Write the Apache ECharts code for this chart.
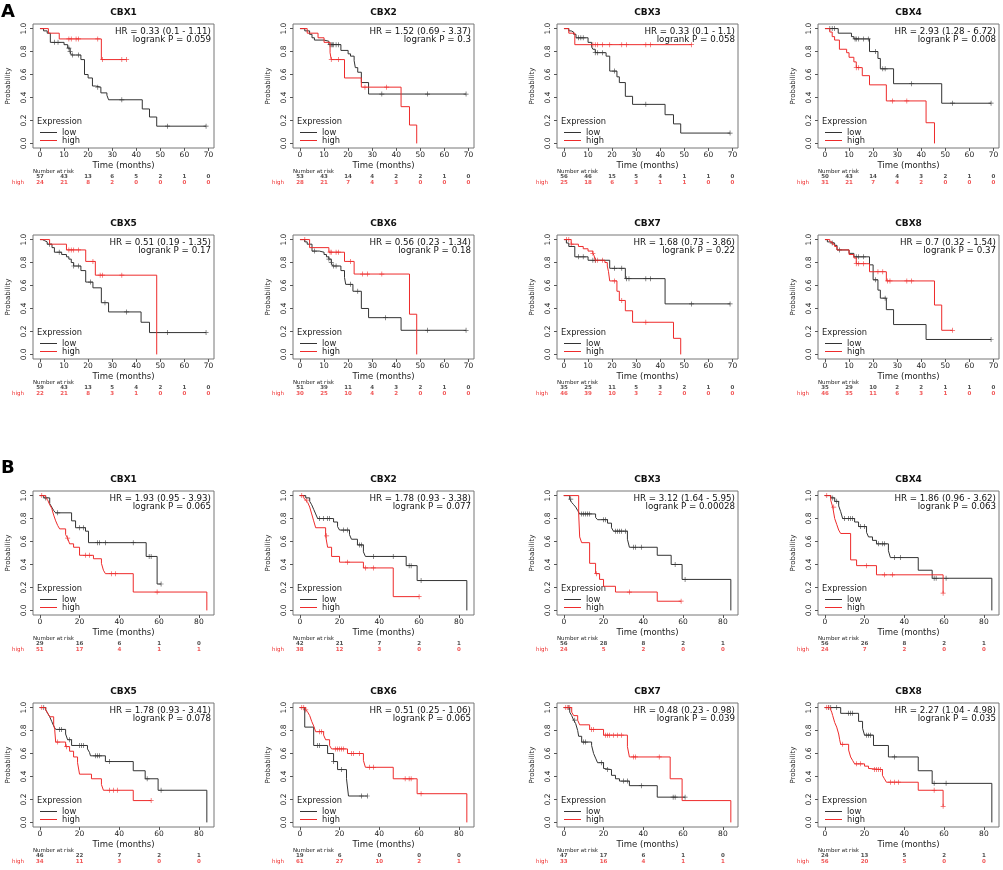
<!DOCTYPE html>
<html>
<head>
<meta charset="utf-8">
<script src="https://cdn.jsdelivr.net/npm/echarts@6/dist/echarts.min.js"></script>
<style>
  html, body { margin: 0; background: #fff; }
  #chart { width: 1003px; height: 870px; }
</style>
</head>
<body>
<div id="chart"></div>
<script>
// tick labels
const timeTicksA = [0, 10, 20, 30, 40, 50, 60, 70]
const timeTicksB = [0, 20, 40, 60, 80]
const probTicks = [0, 0.2, 0.4, 0.6, 0.8, 1.0]

const genes = ['CBX1', 'CBX2', 'CBX3', 'CBX4', 'CBX5', 'CBX6', 'CBX7', 'CBX8']
const hrA = ['HR = 0.33 (0.1 - 1.11)', 'HR = 1.52 (0.69 - 3.37)', 'HR = 0.33 (0.1 - 1.1)', 'HR = 2.93 (1.28 - 6.72)',
  'HR = 0.51 (0.19 - 1.35)', 'HR = 0.56 (0.23 - 1.34)', 'HR = 1.68 (0.73 - 3.86)', 'HR = 0.7 (0.32 - 1.54)']
const pA = ['logrank P = 0.059', 'logrank P = 0.3', 'logrank P = 0.058', 'logrank P = 0.008',
  'logrank P = 0.17', 'logrank P = 0.18', 'logrank P = 0.22', 'logrank P = 0.37']
const hrB = ['HR = 1.93 (0.95 - 3.93)', 'HR = 1.78 (0.93 - 3.38)', 'HR = 3.12 (1.64 - 5.95)', 'HR = 1.86 (0.96 - 3.62)',
  'HR = 1.78 (0.93 - 3.41)', 'HR = 0.51 (0.25 - 1.06)', 'HR = 0.48 (0.23 - 0.98)', 'HR = 2.27 (1.04 - 4.98)']
const pB = ['logrank P = 0.065', 'logrank P = 0.077', 'logrank P = 0.00028', 'logrank P = 0.063',
  'logrank P = 0.078', 'logrank P = 0.065', 'logrank P = 0.039', 'logrank P = 0.035']

// ---- panel A : [time, survival] steps, censor times, numbers at risk
const a1Low = [[0,1],[1.5,0.98],[3,0.96],[4.3,0.88],[10,0.86],[11.5,0.83],[12.5,0.80],[13,0.77],[17,0.73],[18.5,0.60],[20,0.57],[21.8,0.50],[23,0.49],[25.3,0.44],[27.8,0.42],[28.5,0.38],[42.5,0.30],[45.5,0.23],[48.5,0.15],[69,0.15]]
const a1LowCens = [6, 7.5, 12, 12.5, 13.5, 16, 24, 34, 53, 69]
const a1High = [[0,1],[3.5,0.96],[8,0.91],[25.5,0.73],[36,0.73]]
const a1HighCens = [12, 13, 15, 16, 24, 26, 34, 36]
const a1RiskLow = [57, 43, 13, 6, 5, 2, 1, 0]
const a1RiskHigh = [24, 21, 8, 2, 0, 0, 0, 0]

const a2Low = [[0,1],[2,0.98],[4,0.95],[5,0.92],[6,0.90],[10,0.89],[12,0.86],[17,0.81],[20,0.78],[21,0.76],[22.5,0.72],[23,0.66],[24,0.62],[25.5,0.53],[28.5,0.43],[69,0.43]]
const a2LowCens = [12.5, 13, 13.5, 14, 15, 16, 34, 53, 69]
const a2High = [[0,1],[3,0.96],[7.5,0.92],[10,0.88],[12.5,0.79],[13,0.73],[18.5,0.57],[25.5,0.49],[42,0.32],[45.5,0.16],[48.5,0]]
const a2HighCens = [13, 16, 27, 36]
const a2RiskLow = [53, 43, 14, 4, 2, 2, 1, 0]
const a2RiskHigh = [28, 21, 7, 4, 3, 0, 0, 0]

const a3Low = [[0,1],[2,0.98],[3,0.97],[4,0.95],[5,0.92],[10,0.88],[11.5,0.84],[12,0.82],[13,0.79],[17.5,0.76],[19,0.63],[22,0.58],[23,0.53],[25.5,0.41],[28.5,0.34],[42,0.25],[45.5,0.17],[48.5,0.09],[69,0.09]]
const a3LowCens = [6, 7, 8, 13, 14, 16, 21, 34, 69]
const a3High = [[0,1],[2,0.96],[4.5,0.86],[53,0.86]]
const a3HighCens = [12, 13, 14, 16, 19, 24, 26, 34, 36, 53]
const a3RiskLow = [56, 46, 15, 5, 4, 1, 1, 0]
const a3RiskHigh = [25, 18, 6, 3, 1, 1, 0, 0]

const a4Low = [[0,1],[5.5,0.96],[11,0.93],[12,0.91],[18.5,0.80],[22,0.74],[23,0.65],[28.5,0.52],[48.5,0.35],[69,0.35]]
const a4LowCens = [2, 3, 4, 12.5, 13, 14, 16, 18, 21, 24, 25, 36, 53, 69]
const a4High = [[0,1],[2,0.97],[3,0.93],[4,0.90],[6,0.82],[9,0.79],[10,0.75],[12,0.71],[13,0.66],[15.5,0.59],[18.5,0.51],[25.5,0.37],[42,0.18],[45.5,0]]
const a4HighCens = [13, 14, 28, 34]
const a4RiskLow = [50, 43, 14, 4, 3, 2, 1, 0]
const a4RiskHigh = [31, 21, 7, 4, 2, 0, 0, 0]

const a5Low = [[0,1],[1,0.99],[2,0.98],[3,0.96],[5,0.93],[6,0.89],[9,0.87],[11,0.85],[12,0.83],[13,0.80],[14,0.77],[17,0.73],[19,0.63],[22,0.58],[25.5,0.45],[28.5,0.37],[42,0.28],[45.5,0.19],[69,0.19]]
const a5LowCens = [4, 8, 14, 16, 21, 27, 36, 53, 69]
const a5High = [[0,1],[4,0.96],[11,0.91],[19,0.81],[23,0.69],[48.5,0]]
const a5HighCens = [12, 13, 14, 16, 22, 25, 26, 34]
const a5RiskLow = [59, 43, 13, 5, 4, 2, 1, 0]
const a5RiskHigh = [22, 21, 8, 3, 1, 0, 0, 0]

const a6Low = [[0,1],[2,0.98],[3,0.96],[5,0.90],[8,0.89],[10,0.87],[11,0.85],[12,0.83],[13,0.80],[13.5,0.77],[17,0.73],[18.5,0.67],[19,0.61],[22,0.55],[25.5,0.40],[28.5,0.32],[42,0.21],[69,0.21]]
const a6LowCens = [6, 12, 13, 14, 15, 21, 24, 35.5, 53, 69]
const a6High = [[0,1],[4,0.93],[12,0.89],[18.5,0.81],[22.5,0.70],[45.5,0.35],[48.5,0]]
const a6HighCens = [2, 12.5, 13, 15, 16, 21, 26, 28, 34]
const a6RiskLow = [51, 39, 11, 4, 3, 2, 1, 0]
const a6RiskHigh = [30, 25, 10, 4, 2, 0, 0, 0]

const a7Low = [[0,1],[1,0.97],[2,0.94],[4.5,0.85],[10,0.82],[19,0.75],[25.5,0.66],[42,0.44],[69,0.44]]
const a7LowCens = [6, 8, 12, 13, 21, 24, 26, 27, 34, 36, 53, 69]
const a7High = [[0,1],[3,0.96],[6,0.94],[8,0.92],[10,0.90],[12,0.88],[12.5,0.86],[13,0.82],[17,0.80],[18,0.77],[18.5,0.72],[19,0.64],[22,0.55],[23,0.47],[25.5,0.38],[28.5,0.28],[45.5,0.14],[48.5,0]]
const a7HighCens = [1, 2, 3, 12, 13, 14, 16, 21, 24, 34]
const a7RiskLow = [35, 25, 11, 5, 3, 2, 1, 0]
const a7RiskHigh = [46, 39, 10, 3, 2, 0, 0, 0]

const a8Low = [[0,1],[1,0.98],[2,0.97],[4,0.95],[5,0.91],[10,0.88],[12,0.85],[18.5,0.78],[20,0.65],[22,0.56],[23,0.49],[25.5,0.39],[28.5,0.26],[42,0.13],[69,0.13]]
const a8LowCens = [3, 6, 13, 14, 16, 21, 25, 69]
const a8High = [[0,1],[2,0.98],[3,0.96],[4,0.94],[5,0.91],[10,0.87],[12,0.84],[13,0.79],[18.5,0.72],[25.5,0.64],[45.5,0.43],[48.5,0.21],[53,0.21]]
const a8HighCens = [13, 14, 16, 22, 24, 26, 27, 34, 36, 53]
const a8RiskLow = [35, 29, 10, 2, 2, 1, 1, 0]
const a8RiskHigh = [46, 35, 11, 6, 3, 1, 0, 0]

// ---- panel B
const b1Low = [[0,1],[2,0.98],[5,0.93],[6,0.90],[7,0.87],[8,0.85],[16,0.78],[18,0.72],[23,0.69],[24.5,0.59],[53.5,0.47],[59,0.23],[61,0.23]]
const b1LowCens = [3, 9, 20, 22, 29, 30, 33, 47, 55, 56, 61]
const b1High = [[0,1],[3,0.98],[4,0.96],[5,0.92],[6,0.89],[7,0.83],[8,0.78],[9,0.74],[10,0.71],[13,0.66],[14,0.63],[15,0.58],[17,0.55],[20,0.48],[27,0.45],[31,0.41],[32,0.35],[33,0.32],[47,0.16],[84,0]]
const b1HighCens = [1, 14, 23, 25, 36, 38, 59]
const b1RiskLow = [29, 16, 6, 1, 0]
const b1RiskHigh = [51, 17, 4, 1, 1]

const b2Low = [[0,1],[3,0.98],[5,0.95],[6,0.92],[7,0.88],[8,0.84],[9,0.80],[17,0.77],[19,0.73],[20,0.70],[25,0.66],[26,0.62],[29,0.57],[32,0.51],[33,0.47],[53.5,0.39],[59,0.26],[84,0]]
const b2LowCens = [10, 12, 14, 15, 22, 24, 30, 31, 37, 47, 55, 56, 61]
const b2High = [[0,1],[2,0.98],[3,0.96],[4,0.94],[5,0.90],[6,0.84],[7,0.78],[8,0.72],[13,0.65],[14,0.55],[16,0.47],[20,0.42],[32,0.37],[47,0.12],[60,0.12]]
const b2HighCens = [1, 3.5, 13.5, 24, 33, 37, 60]
const b2RiskLow = [42, 21, 7, 2, 1]
const b2RiskHigh = [38, 12, 3, 0, 0]

const b3Low = [[0,1],[3,0.97],[4,0.94],[5,0.92],[6,0.90],[7,0.87],[8,0.84],[16,0.81],[17,0.79],[22,0.76],[24,0.72],[25,0.69],[32,0.62],[33,0.55],[47,0.48],[54,0.40],[59.5,0.27],[84,0]]
const b3LowCens = [3.5, 9, 10, 11, 12, 13, 20, 21, 26, 27, 28, 29, 31, 35, 36, 39, 56, 61]
const b3High = [[0,1],[7.5,0.84],[8,0.64],[9,0.59],[13,0.41],[16,0.32],[18,0.27],[20,0.21],[26,0.16],[47,0.08],[59,0.08]]
const b3HighCens = [16.5, 33, 59]
const b3RiskLow = [56, 28, 8, 2, 1]
const b3RiskHigh = [24, 5, 2, 0, 0]

const b4Low = [[0,1],[3,0.98],[5,0.95],[7,0.91],[8,0.86],[9,0.80],[15,0.77],[17,0.73],[21,0.68],[22,0.64],[24,0.61],[26,0.58],[32,0.52],[33,0.46],[47,0.35],[54,0.28],[84,0]]
const b4LowCens = [4, 6, 10, 12, 13, 14, 18, 20, 27, 29, 30, 35, 38, 55, 56, 61]
const b4High = [[0,1],[3,0.96],[4,0.90],[5,0.80],[6,0.75],[7,0.70],[8,0.67],[13,0.44],[16,0.39],[26,0.31],[59.5,0.15]]
const b4HighCens = [1, 4.5, 21, 30, 34, 59.5]
const b4RiskLow = [56, 26, 8, 2, 1]
const b4RiskHigh = [24, 7, 2, 0, 0]

const b5Low = [[0,1],[3,0.98],[4,0.95],[5,0.92],[6,0.88],[7,0.84],[8,0.81],[13,0.77],[14,0.72],[16,0.67],[24,0.64],[25,0.61],[25.5,0.58],[33,0.53],[47,0.45],[53,0.38],[59.5,0.28],[84,0]]
const b5LowCens = [2, 10, 11, 15, 20, 21, 22, 28, 29, 30, 35, 54, 61]
const b5High = [[0,1],[3,0.98],[4,0.95],[5,0.92],[7,0.85],[7.5,0.81],[8,0.70],[13,0.66],[15,0.62],[17,0.57],[19,0.52],[20,0.42],[26,0.38],[31,0.33],[32,0.28],[47,0.19],[56,0.19]]
const b5HighCens = [1, 9, 13.5, 35, 37, 39, 56]
const b5RiskLow = [46, 22, 7, 2, 1]
const b5RiskHigh = [34, 11, 3, 0, 0]

const b6Low = [[0,1],[2.5,0.83],[7,0.67],[14,0.60],[17,0.53],[19,0.46],[23.5,0.38],[24.5,0.23],[34,0.23]]
const b6LowCens = [9, 10, 17, 21, 31, 34]
const b6High = [[0,1],[3,0.98],[4,0.96],[5,0.93],[6,0.88],[7,0.84],[8,0.79],[12,0.76],[13,0.72],[15,0.67],[16,0.64],[24,0.60],[32,0.54],[33,0.48],[47,0.38],[59,0.25],[84,0]]
const b6HighCens = [1, 2, 3, 10, 11, 18, 19, 20, 21, 22, 26, 27, 30, 35, 37, 53, 55, 56, 61]
const b6RiskLow = [19, 6, 0, 0, 0]
const b6RiskHigh = [61, 27, 10, 2, 1]

const b7Low = [[0,1],[3,0.96],[4,0.93],[5,0.89],[6,0.86],[7,0.80],[7.5,0.75],[9,0.70],[14,0.67],[15,0.60],[16,0.56],[17,0.52],[20,0.47],[21,0.46],[24,0.41],[26,0.38],[28,0.36],[33,0.32],[47,0.22],[61,0.22]]
const b7LowCens = [2.5, 5.5, 10, 11, 19, 22, 30, 32, 39, 55, 56, 61]
const b7High = [[0,1],[4,0.96],[5,0.93],[7,0.89],[8,0.85],[13,0.81],[20,0.76],[32,0.66],[33,0.57],[53.5,0.38],[59.5,0.19],[84,0]]
const b7HighCens = [1, 2, 3, 14, 15, 21, 22, 23, 25, 27, 29, 35, 36, 48]
const b7RiskLow = [47, 17, 6, 1, 0]
const b7RiskHigh = [33, 16, 4, 1, 1]

const b8Low = [[0,1],[8,0.95],[17,0.88],[19,0.82],[20,0.76],[24.5,0.67],[32,0.57],[47,0.45],[54,0.34],[84,0]]
const b8LowCens = [2, 3, 6, 12, 13, 14, 21, 22, 23, 35, 55, 61]
const b8High = [[0,1],[3,0.98],[3.5,0.96],[4,0.93],[5,0.87],[6,0.83],[7,0.77],[7.5,0.72],[8,0.68],[12,0.63],[13,0.57],[14,0.54],[15,0.51],[20,0.49],[22,0.47],[23,0.46],[29,0.41],[30,0.38],[31,0.35],[47,0.28],[59.5,0.14]]
const b8HighCens = [1, 2, 9, 16, 18, 25, 26, 27, 28, 33, 35, 37, 55, 59.5]
const b8RiskLow = [24, 13, 5, 2, 1]
const b8RiskHigh = [56, 20, 5, 0, 0]

const panels = [
  ['A', a1Low, a1LowCens, a1High, a1HighCens, a1RiskLow, a1RiskHigh],
  ['A', a2Low, a2LowCens, a2High, a2HighCens, a2RiskLow, a2RiskHigh],
  ['A', a3Low, a3LowCens, a3High, a3HighCens, a3RiskLow, a3RiskHigh],
  ['A', a4Low, a4LowCens, a4High, a4HighCens, a4RiskLow, a4RiskHigh],
  ['A', a5Low, a5LowCens, a5High, a5HighCens, a5RiskLow, a5RiskHigh],
  ['A', a6Low, a6LowCens, a6High, a6HighCens, a6RiskLow, a6RiskHigh],
  ['A', a7Low, a7LowCens, a7High, a7HighCens, a7RiskLow, a7RiskHigh],
  ['A', a8Low, a8LowCens, a8High, a8HighCens, a8RiskLow, a8RiskHigh],
  ['B', b1Low, b1LowCens, b1High, b1HighCens, b1RiskLow, b1RiskHigh],
  ['B', b2Low, b2LowCens, b2High, b2HighCens, b2RiskLow, b2RiskHigh],
  ['B', b3Low, b3LowCens, b3High, b3HighCens, b3RiskLow, b3RiskHigh],
  ['B', b4Low, b4LowCens, b4High, b4HighCens, b4RiskLow, b4RiskHigh],
  ['B', b5Low, b5LowCens, b5High, b5HighCens, b5RiskLow, b5RiskHigh],
  ['B', b6Low, b6LowCens, b6High, b6HighCens, b6RiskLow, b6RiskHigh],
  ['B', b7Low, b7LowCens, b7High, b7HighCens, b7RiskLow, b7RiskHigh],
  ['B', b8Low, b8LowCens, b8High, b8HighCens, b8RiskLow, b8RiskHigh]
]

// layout
const colLeft = [33, 293, 557, 818]
const rowTop = [24, 235, 491, 703]
const plotW = 181
const plotH = 124
const xRange = { A: [-2.9, 72.3], B: [-3.4, 87.6] }
const FONT = 'DejaVu Sans'
const LOW_COLOR = '#333333'
const HIGH_COLOR = '#ee2b2b'
const CROSS = 'path://M4.3,0H5.7V10H4.3ZM0,4.3H10V5.7H0Z'

// survival value of a step curve at time t (used to sit censor marks on the curve)
function survAt(steps, t) {
  let s = steps[0][1]
  steps.forEach(([st, sv]) => { if (st <= t) s = sv })
  return s
}

function txt(x, y, text, size, opts) {
  opts = opts || {}
  return {
    type: 'text', x, y, silent: true,
    style: {
      text, fill: opts.color || '#111',
      font: (opts.bold ? 'bold ' : '') + size + 'px "' + FONT + '"',
      align: opts.align || 'left', verticalAlign: 'middle'
    }
  }
}

const option = {
  animation: false,
  textStyle: { fontFamily: FONT },
  grid: [], xAxis: [], yAxis: [], series: [], legend: [],
  graphic: [
    txt(1, 12, 'A', 18, { bold: true, color: '#000' }),
    txt(1, 468, 'B', 18, { bold: true, color: '#000' })
  ]
}

panels.forEach((pn, i) => {
  const [set, low, lowCens, high, highCens, riskLow, riskHigh] = pn
  const k = i % 8
  const row = Math.floor(i / 4)
  const left = colLeft[i % 4]
  const top = rowTop[row]
  const ticks = set === 'A' ? timeTicksA : timeTicksB
  const xr = xRange[set]
  const g = i * 2

  option.grid.push({ left, top, width: plotW, height: plotH, show: true, borderColor: '#777', borderWidth: 1 })
  option.grid.push({ left, top: top + plotH + 26, width: plotW, height: 12 })

  option.xAxis.push({
    gridIndex: g, type: 'value', min: xr[0], max: xr[1],
    axisLine: { show: false, onZero: false }, splitLine: { show: false },
    axisTick: { show: true, length: 3, customValues: ticks, lineStyle: { color: '#555' } },
    axisLabel: { customValues: ticks, fontSize: 7.5, margin: 3, color: '#222' },
    name: 'Time (months)', nameLocation: 'middle', nameGap: 13,
    nameTextStyle: { fontSize: 8.5, color: '#222' }
  })
  option.yAxis.push({
    gridIndex: g, type: 'value', min: -0.04, max: 1.04,
    axisLine: { show: false, onZero: false }, splitLine: { show: false },
    axisTick: { show: true, length: 3, customValues: probTicks, lineStyle: { color: '#555' } },
    axisLabel: { customValues: probTicks, rotate: 90, fontSize: 7.5, margin: 5, color: '#222', formatter: v => v.toFixed(1) },
    name: 'Probability', nameLocation: 'middle', nameGap: 21,
    nameTextStyle: { fontSize: 7, color: '#222' }
  })
  option.xAxis.push({ gridIndex: g + 1, type: 'value', min: xr[0], max: xr[1], show: false })
  option.yAxis.push({
    gridIndex: g + 1, type: 'category', data: ['high', 'low'],
    axisLine: { show: false }, axisTick: { show: false },
    axisLabel: { fontSize: 5.5, margin: 9, color: v => (v === 'high' ? HIGH_COLOR : '#222') }
  })

  const curve = (name, steps, cens, color) => [
    {
      type: 'line', name, xAxisIndex: g, yAxisIndex: g, step: 'end', symbol: 'none',
      lineStyle: { color, width: 1 }, itemStyle: { color }, data: steps, silent: true
    },
    {
      type: 'scatter', name: name + ' censored', xAxisIndex: g, yAxisIndex: g,
      symbol: CROSS, symbolSize: 5, itemStyle: { color }, silent: true,
      data: cens.map(t => [t, survAt(steps, t)])
    }
  ]
  const risk = (name, counts, color) => ({
    type: 'scatter', xAxisIndex: g + 1, yAxisIndex: g + 1, symbolSize: 0.1,
    itemStyle: { color: 'rgba(0,0,0,0)' }, silent: true,
    label: { show: true, position: 'inside', formatter: p => p.value[2], fontSize: 5.5, color, fontWeight: 'bold' },
    data: ticks.map((t, j) => [t, name, counts[j]])
  })
  option.series.push(...curve('low', low, lowCens, LOW_COLOR), ...curve('high', high, highCens, HIGH_COLOR))
  option.series.push(risk('low', riskLow, '#222'), risk('high', riskHigh, HIGH_COLOR))

  option.legend.push({
    data: ['low', 'high'], orient: 'vertical', left: left + 7, top: top + plotH - 19.5,
    icon: 'rect', itemGap: 0, itemWidth: 17, itemHeight: 1, padding: 0, selectedMode: false,
    textStyle: { fontSize: 8.3, color: '#222', lineHeight: 7.5 }
  })

  const hr = set === 'A' ? hrA[k] : hrB[k]
  const pv = set === 'A' ? pA[k] : pB[k]
  option.graphic.push(
    txt(left + plotW / 2, top - 11, genes[k], 9, { bold: true, align: 'center' }),
    txt(left + plotW - 3, top + 8, hr, 8.7, { align: 'right' }),
    txt(left + plotW - 3, top + 16, pv, 8.7, { align: 'right' }),
    txt(left + 4, top + plotH - 26, 'Expression', 8.3, { color: '#222' }),
    txt(left, top + plotH + 24, 'Number at risk', 5.5, { color: '#222' })
  )
})

const myChart = echarts.init(document.getElementById('chart'), null, { renderer: 'canvas' })
myChart.setOption(option)
window.addEventListener('resize', () => { myChart && myChart.resize() })
</script>
</body>
</html>
